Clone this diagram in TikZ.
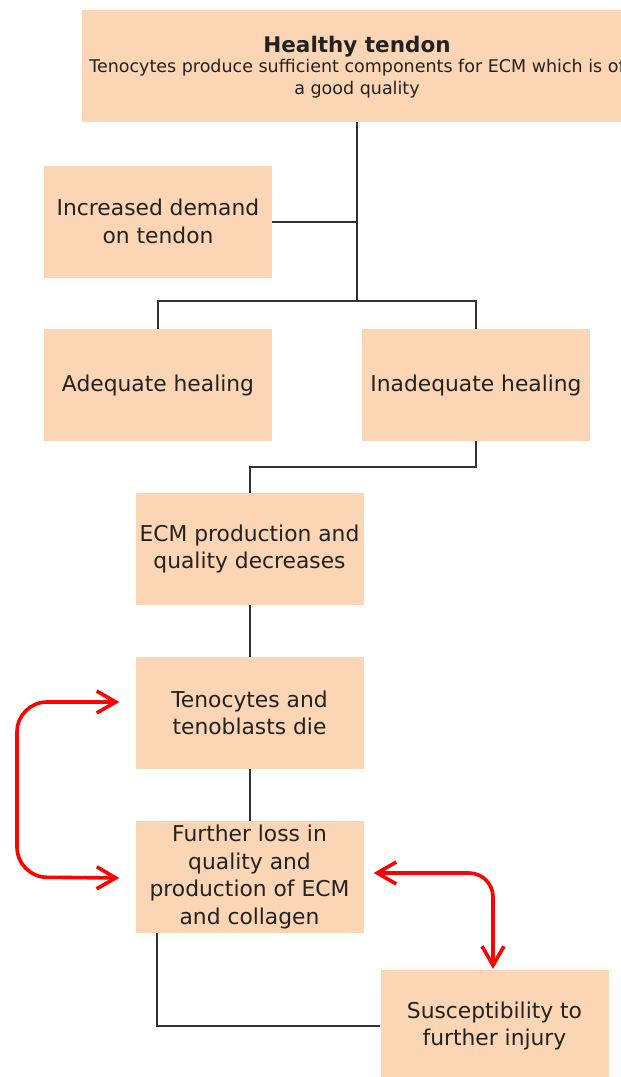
\documentclass[tikz,border=0pt]{standalone}
\usepackage{fontspec}
\setmainfont{DejaVu Sans}
\usetikzlibrary{arrows.meta}
\definecolor{peach}{RGB}{252,213,181}
\definecolor{txt}{RGB}{34,34,34}
\definecolor{ln}{RGB}{50,50,50}
\definecolor{arred}{RGB}{255,0,0}
\tikzset{
  box/.style={fill=peach, draw=none, minimum width=228pt, minimum height=112pt, inner sep=0pt,
    align=center, text=txt, font=\fontsize{21.8}{27.5}\selectfont},
  conn/.style={draw=ln, line width=2pt},
  redarr/.style={draw=arred, line width=3.6pt, rounded corners=30pt, line cap=round,
    {Straight Barb[length=19pt,width=22pt,line width=3.6pt]}-{Straight Barb[length=19pt,width=22pt,line width=3.6pt]}}
}
\begin{document}
\begin{tikzpicture}[x=1pt,y=-1pt]
\useasboundingbox (0,0) rectangle (621,1077);
\clip (0,0) rectangle (621,1077);
\node[box, minimum width=550pt, minimum height=112pt] (top) at (357,66) {};
\node[text=txt, align=center, inner sep=0pt, font=\fontsize{17.5}{22}\selectfont] (toptext) at (357,67)
  {{\fontsize{21.5}{24}\selectfont\bfseries Healthy tendon}\\[-2pt]Tenocytes produce sufficient components for ECM which is of\\a good quality};
\node[box] (inc) at (158,221.5) {Increased demand\\on tendon};
\node[box] (adq) at (158,385) {Adequate healing};
\node[box] (inad) at (476,385) {Inadequate healing};
\node[box] (ecm) at (249.5,549) {ECM production and\\quality decreases};
\node[box] (tdie) at (249.5,713) {Tenocytes and\\tenoblasts die};
\node[box] (fur) at (249.5,877) {Further loss in\\quality and\\production of ECM\\and collagen};
\node[box] (sus) at (494.5,1026) {Susceptibility to\\further injury};
\coordinate (j) at (357,301);
\draw[conn] (top.south) -- (j);
\draw[conn] (inc.east) -- (inc.east -| j);
\draw[conn] (adq.north) -- (adq.north |- j) -- (inad.north |- j) -- (inad.north);
\draw[conn] (inad.south) -- ++(0,26) -| (ecm.north);
\draw[conn] (ecm.south) -- (tdie.north);
\draw[conn] (tdie.south) -- (fur.north);
\coordinate (fb) at ([xshift=-92.5pt]fur.south);
\draw[conn] (fb) |- (sus.west);
\coordinate (a1) at ([xshift=-16pt,yshift=11pt]tdie.west);
\coordinate (a2) at ([xshift=-16pt,yshift=-1pt]fur.west);
\draw[redarr] (a1) -- (17,702) -- (17,877) -- (a2);
\coordinate (b1) at ([xshift=10pt,yshift=4pt]fur.east);
\coordinate (b2) at ([xshift=-1.5pt,yshift=1pt]sus.north);
\draw[redarr, rounded corners=24pt] (b1) -- (b2 |- b1) -- (b2);
\end{tikzpicture}
\end{document}
